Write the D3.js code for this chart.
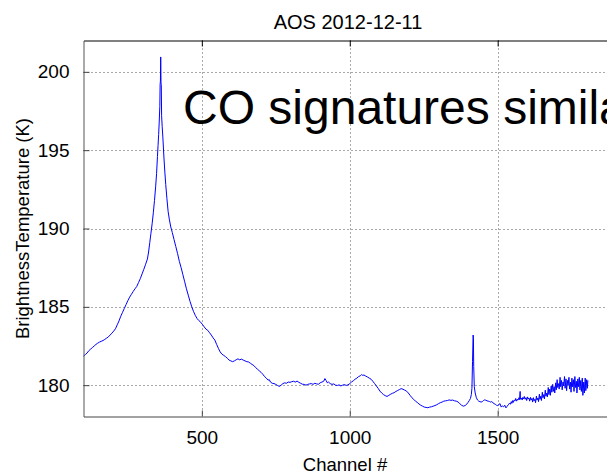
<!DOCTYPE html>
<html>
<head>
<meta charset="utf-8">
<script src="https://cdn.jsdelivr.net/npm/d3@7"></script>
<style>
  html, body { margin: 0; padding: 0; background: #fff; overflow: hidden; }
  svg { display: block; font-family: "Liberation Sans", Arial, Helvetica, sans-serif; }
</style>
</head>
<body>
<div id="chart"></div>
<script>
// AOS spectrum, 2012-12-11: brightness temperature per channel.
const chartTitle = "AOS 2012-12-11";
const xLabel = "Channel #";
const yLabel = "BrightnessTemperature (K)";
const annotation = "CO signatures similar";

const xTicks = [500, 1000, 1500];
const yTicks = [180, 185, 190, 195, 200];

// Rising wing of the CO line, [channel, K]
const wingLeft = [
  [100,181.85],[106,181.95],[112,182.05],[118,182.2],[124,182.3],[130,182.4],[136,182.5],
  [142,182.6],[148,182.68],[154,182.75],[160,182.8],[166,182.85],[172,182.92],[178,183.0],
  [184,183.08],[190,183.2],[196,183.32],[202,183.45],[208,183.6],[214,183.85],[220,184.1],
  [226,184.4],[232,184.65],[238,184.9],[244,185.15],[250,185.4],[256,185.62],[262,185.8],
  [268,185.98],[274,186.15],[280,186.3],[286,186.55],[292,186.8],[298,187.1],[304,187.4],
  [310,187.72],[316,188.05],[320,188.5],[324,189.1],[328,189.7],[332,190.3],[336,191.0],
  [340,191.8],[344,192.7],[347,193.5],[350,194.6],[352,195.3],[354,196.0],[356,196.8],[358,197.8]
];

// Line centre
const peakCore = [
  [359,199.2],[360,199.4],[361,200.95],[362,199.3],[363,199.1],[364,197.2],[366,196.5],
  [368,195.9],[370,195.2],[372,194.5],[375,193.6],[378,192.8],[382,191.9],[386,191.1]
];

// Falling wing
const wingRight = [
  [390,190.6],[395,190.1],[400,189.75],[406,189.3],[412,188.85],[418,188.4],[424,187.9],
  [430,187.5],[436,187.05],[442,186.6],[448,186.15],[454,185.75],[460,185.35],[466,185.0],
  [472,184.7],[478,184.45],[484,184.25],[490,184.12],[496,184.02],[502,183.88],[508,183.72],
  [514,183.58],[520,183.5],[526,183.35],[532,183.2],[538,183.02],[544,182.88],[550,182.6],
  [556,182.35],[562,182.12],[568,181.98],[574,181.9],[580,181.82],[586,181.72],[592,181.6],
  [598,181.55],[604,181.5],[610,181.55],[616,181.62],[622,181.68],[628,181.62],[634,181.66],
  [640,181.6],[646,181.55],[652,181.5],[658,181.48],[664,181.4],[670,181.32],[676,181.25],
  [682,181.12],[688,181.02],[694,180.92],[700,180.82],[706,180.7],[712,180.55],[718,180.45],
  [724,180.32],[728,180.35],[732,180.2],[738,180.12],[744,180.1],[750,180.05]
];

// Baseline with ripples
const baseline = [
  [756,179.98],[762,179.92],[768,180.0],[774,180.1],[780,180.15],[786,180.12],[792,180.2],
  [798,180.18],[804,180.22],[810,180.25],[816,180.2],[822,180.26],[828,180.18],[834,180.12],
  [840,180.06],[846,180.05],[852,180.0],[858,180.05],[864,180.08],[870,180.1],[876,180.05],
  [882,180.12],[888,180.08],[894,180.06],[900,180.15],[906,180.2],[912,180.25],[916,180.42],
  [920,180.3],[924,180.15],[928,180.2],[934,180.1],[940,180.05],[946,180.08],[952,180.0],
  [958,179.98],[964,180.02],[970,179.95],[976,180.0],[982,180.04],[988,179.98],[994,180.02],
  [1000,180.1],[1006,180.2],[1012,180.28],[1018,180.38],[1024,180.45],[1030,180.55],
  [1036,180.6],[1040,180.68],[1044,180.62],[1048,180.65],[1054,180.58],[1060,180.52],
  [1066,180.45],[1072,180.38],[1078,180.25],[1084,180.1],[1090,179.95],[1096,179.8],
  [1102,179.62],[1108,179.5],[1114,179.4],[1120,179.33],[1126,179.28],[1132,179.35],
  [1138,179.42],[1144,179.48],[1150,179.52],[1156,179.6],[1162,179.66],[1168,179.72],
  [1174,179.78],[1180,179.74],[1186,179.68],[1192,179.62],[1198,179.5],[1204,179.35],
  [1210,179.2],[1216,179.1],[1222,178.98],[1228,178.9],[1234,178.8],[1240,178.72],
  [1246,178.66],[1252,178.6],[1258,178.58],[1264,178.56],[1270,178.6],[1276,178.62],
  [1282,178.66],[1288,178.7],[1294,178.75],[1300,178.82],[1306,178.88],[1312,178.92],
  [1318,178.98],[1324,179.0],[1330,179.02],[1336,179.06],[1342,179.03],[1348,179.05],
  [1354,179.0],[1360,178.98],[1366,178.93],[1372,178.82],[1378,178.72],[1384,178.66],
  [1390,178.7],[1396,178.8],[1400,178.9],[1404,179.02],[1408,179.15]
];

// Narrow secondary line near channel 1417
const spike = [
  [1411,179.4],[1413,179.8],[1415,181.5],[1417,183.2],[1418,183.0],[1419,181.2],[1421,179.9],
  [1424,179.5],[1428,179.2],[1432,179.05],[1436,178.98],[1440,178.95],[1444,178.92],
  [1448,178.95],[1452,179.02],[1456,179.06],[1460,179.04],[1464,179.0],[1468,178.98],
  [1472,178.96],[1476,178.92],[1480,178.95],[1484,178.88],[1488,178.82],[1492,178.78],
  [1496,178.72],[1500,178.7],[1504,178.76],[1508,178.82],[1512,178.6],[1516,178.68],
  [1520,178.62],[1524,178.72],[1528,178.55],[1532,178.65],[1536,178.75],[1540,178.85]
];

// Noisy upper band
const tail = [
  [1543,178.78],[1546,178.95],[1548,178.84],[1551,179.02],[1553,178.9],[1556,179.05],
  [1559,179.0],[1561,179.15],[1564,178.98],[1567,179.1],[1569,179.05],[1572,179.2],
  [1574,179.08],[1576,179.6],[1577,179.1],[1580,179.18],[1583,179.05],[1585,179.22],
  [1588,179.12],[1590,179.28],[1593,179.1],[1596,179.2],[1598,179.02],[1601,179.25],
  [1603,179.12],[1606,179.18],[1608,178.98],[1611,179.22],[1613,179.05],[1616,179.15],
  [1618,178.92],[1621,179.2],[1623,179.0],[1626,179.1],[1628,178.88],[1631,179.3],
  [1633,179.05],[1636,179.18],[1638,178.95],[1641,179.42],[1643,179.1],[1646,179.3],
  [1648,179.02],[1651,179.55],[1653,179.2],[1656,179.4],[1658,179.12],[1661,179.68],
  [1663,179.3],[1666,179.5],[1668,179.25],[1671,179.85],[1673,179.4],[1676,179.75],
  [1678,179.35],[1681,179.95],[1683,179.55],[1686,180.05],[1688,179.6],[1691,179.9],
  [1693,179.5],[1696,180.15],[1698,179.7],[1701,180.35],[1703,179.85],[1706,180.1],
  [1708,179.75],[1711,180.5],[1713,179.9],[1716,180.3],[1718,179.7],[1721,180.2],
  [1723,179.95],[1726,180.55],[1728,179.8],[1731,180.4],[1733,179.65],[1736,180.3],
  [1738,180.0],[1741,180.5],[1743,179.75],[1746,180.2],[1748,179.55],[1751,180.45],
  [1753,179.9],[1756,180.35],[1758,179.6],[1761,180.55],[1763,179.85],[1766,180.25],
  [1768,179.5],[1771,180.4],[1773,179.9],[1776,180.5],[1778,179.7],[1781,180.3],
  [1783,179.6],[1786,180.45],[1788,179.35],[1791,180.2],[1793,179.5],[1796,180.45],
  [1798,179.65],[1801,180.35],[1803,179.8],[1805,180.3]
];

const spectrum = [].concat(wingLeft, peakCore, wingRight, baseline, spike, tail);

const W = 607, H = 474;
const plot = { left: 83.5, top: 40.5, bottom: 416.5, right: 616 };

const x = d3.scaleLinear().domain([100, 1900]).range([plot.left, plot.right]);
const y = d3.scaleLinear().domain([178, 202]).range([plot.bottom, plot.top]);

const svg = d3.select("#chart").append("svg")
  .attr("width", W).attr("height", H);

// Dotted grid
const grid = svg.append("g").attr("stroke", "#555").attr("stroke-width", 1)
  .attr("stroke-dasharray", "1,3").attr("fill", "none");
grid.selectAll("line.gx").data(xTicks).join("line")
  .attr("x1", d => Math.round(x(d)) + 0.5).attr("x2", d => Math.round(x(d)) + 0.5)
  .attr("y1", plot.top).attr("y2", plot.bottom);
grid.selectAll("line.gy").data(yTicks).join("line")
  .attr("y1", d => Math.round(y(d)) + 0.5).attr("y2", d => Math.round(y(d)) + 0.5)
  .attr("x1", plot.left).attr("x2", plot.right);

// Spectrum trace
const line = d3.line().x(d => x(d[0])).y(d => y(d[1]));
svg.append("path").datum(spectrum)
  .attr("d", line)
  .attr("fill", "none")
  .attr("stroke", "#0000ff")
  .attr("stroke-width", 1)
  .attr("stroke-linejoin", "round");

// Axes (ticks point inward, box around the plot)
const fmt = d3.format("d");
const xAxisB = d3.axisBottom(x).tickValues(xTicks).tickFormat(fmt)
  .tickSizeInner(-6).tickSizeOuter(0).tickPadding(14);
const gxb = svg.append("g").attr("transform", `translate(0,${plot.bottom})`).call(xAxisB);
gxb.select(".domain").attr("stroke", "#444");
gxb.selectAll(".tick line").attr("stroke", "#444");
gxb.selectAll(".tick text").attr("font-size", 19).attr("fill", "#000")
  .attr("font-family", "Liberation Sans, Arial, sans-serif");

const xAxisT = d3.axisTop(x).tickValues(xTicks).tickSizeInner(-6).tickSizeOuter(0).tickFormat("");
const gxt = svg.append("g").attr("transform", `translate(0,${plot.top})`).call(xAxisT);
gxt.select(".domain").attr("stroke", "#000");
gxt.selectAll(".tick line").attr("stroke", "#000");

const yAxis = d3.axisLeft(y).tickValues(yTicks).tickFormat(fmt)
  .tickSizeInner(-6).tickSizeOuter(0).tickPadding(14);
const gy = svg.append("g").attr("transform", `translate(${plot.left},0)`).call(yAxis);
gy.select(".domain").attr("stroke", "#555");
gy.selectAll(".tick line").attr("stroke", "#444");
gy.selectAll(".tick text").attr("font-size", 19).attr("fill", "#000")
  .attr("font-family", "Liberation Sans, Arial, sans-serif");

// Title and axis labels
svg.append("text").attr("x", 348).attr("y", 29).attr("text-anchor", "middle")
  .attr("font-size", 20).attr("fill", "#000").text(chartTitle);

svg.append("text").attr("x", 345).attr("y", 471).attr("text-anchor", "middle")
  .attr("font-size", 18.5).attr("fill", "#000").text(xLabel);

svg.append("text")
  .attr("transform", `translate(28.5,${(plot.top + plot.bottom) / 2}) rotate(-90)`)
  .attr("text-anchor", "middle")
  .attr("font-size", 18.5).attr("fill", "#000").text(yLabel);

// Large annotation running off the right edge of the figure
svg.append("text").attr("x", 183).attr("y", 123.5)
  .attr("font-size", 48).attr("fill", "#000").text(annotation);
</script>
</body>
</html>
